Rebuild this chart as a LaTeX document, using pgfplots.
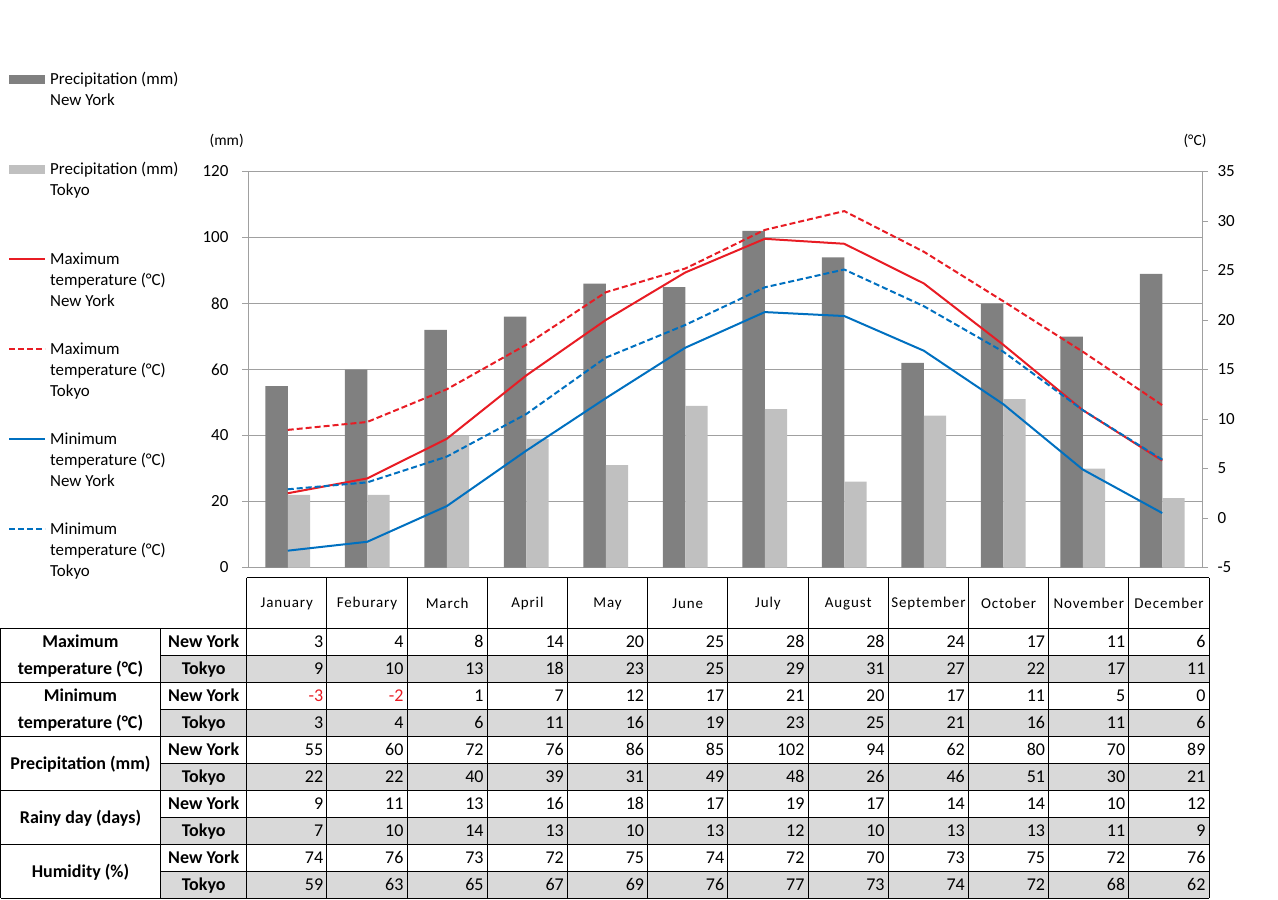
\documentclass[border=0pt]{standalone}
\usepackage{fontspec}
\setmainfont{Carlito}
\newfontfamily\monthfont[LetterSpace=6]{Carlito}
\usepackage{pgfplots}
\usepackage{pgfplotstable}
\pgfplotsset{compat=1.18}

\definecolor{nydark}{RGB}{128,128,128}
\definecolor{tklight}{RGB}{192,192,192}
\definecolor{tred}{RGB}{232,28,36}
\definecolor{tblue}{RGB}{0,112,192}
\definecolor{axisgray}{RGB}{160,160,160}
\definecolor{cellgray}{RGB}{217,217,217}

\newcommand\fs[1]{\fontsize{#1}{#1}\selectfont}

% month, precipitation (mm), temperatures (C)
\pgfplotstableread{
m  nyp tkp nymax tkmax nymin tkmin
1  55  22  2.5   8.9   -3.3  2.9
2  60  22  4.0   9.7   -2.4  3.6
3  72  40  8.0   13.0  1.2   6.2
4  76  39  14.4  17.5  6.8   10.5
5  86  31  20.0  22.8  12.1  16.2
6  85  49  24.8  25.2  17.2  19.5
7  102 48  28.2  29.1  20.8  23.3
8  94  26  27.7  31.0  20.4  25.1
9  62  46  23.7  26.9  16.9  21.4
10 80  51  17.5  21.9  11.5  16.8
11 70  30  10.9  16.8  4.9   10.9
12 89  21  5.8   11.4  0.5   5.9
}\climate

\tikzset{
  leg/.style={anchor=west, inner sep=0pt, text height=10.8pt, text depth=0pt, font=\fs{16.9}},
  hdr/.style={inner sep=0pt, text height=11.6pt, text depth=0pt, font=\bfseries\fs{18}},
  num/.style={anchor=east, inner sep=0pt, text height=11.6pt, text depth=0pt, font=\fs{18}},
}

\begin{document}
\begin{tikzpicture}
\useasboundingbox (0,0) rectangle (1278pt,-900pt);

% ---- legend
\fill[nydark] (9pt,-74.5pt) rectangle (45pt,-83.5pt);
\node[leg] at (50pt,-79pt) {Precipitation (mm)};
\node[leg] at (50pt,-100pt) {New York};
\fill[tklight] (9pt,-164.5pt) rectangle (45pt,-173.5pt);
\node[leg] at (50pt,-169pt) {Precipitation (mm)};
\node[leg] at (50pt,-190pt) {Tokyo};
\draw[tred, line width=2pt] (9pt,-259pt) -- (45pt,-259pt);
\node[leg] at (50pt,-259pt) {Maximum};
\node[leg] at (50pt,-280pt) {temperature (°C)};
\node[leg] at (50pt,-301pt) {New York};
\draw[tred, line width=2pt, dash pattern=on 6pt off 3pt] (9pt,-349pt) -- (45pt,-349pt);
\node[leg] at (50pt,-349pt) {Maximum};
\node[leg] at (50pt,-370pt) {temperature (°C)};
\node[leg] at (50pt,-391pt) {Tokyo};
\draw[tblue, line width=2pt] (9pt,-439pt) -- (45pt,-439pt);
\node[leg] at (50pt,-439pt) {Minimum};
\node[leg] at (50pt,-460pt) {temperature (°C)};
\node[leg] at (50pt,-481pt) {New York};
\draw[tblue, line width=2pt, dash pattern=on 6pt off 3pt] (9pt,-529pt) -- (45pt,-529pt);
\node[leg] at (50pt,-529pt) {Minimum};
\node[leg] at (50pt,-550pt) {temperature (°C)};
\node[leg] at (50pt,-571pt) {Tokyo};

% ---- unit labels
\node[font=\fs{15.5}] at (226.7pt,-141pt) {(mm)};
\node[font=\fs{15.5}] at (1195pt,-141pt) {(°C)};

% ---- precipitation bars (left axis)
\begin{axis}[
  at={(248pt,-567.5pt)}, anchor=south west,
  scale only axis, width=954pt, height=396pt,
  xmin=0.5, xmax=12.5, ymin=0, ymax=120,
  xtick=\empty, ytick={0,20,...,120}, ytick pos=left,
  tick align=outside, major tick length=6pt,
  ymajorgrids, grid style={axisgray, line width=1pt},
  axis line style={axisgray, line width=1pt},
  tick style={axisgray, line width=1pt},
  yticklabel style={font=\fs{17}, xshift=-10pt},
  /pgf/number format/assume math mode=true,
  bar width=22.3pt,
]
\addplot[ybar, bar shift=-11.15pt, fill=nydark, draw=none] table[x=m, y=nyp] {\climate};
\addplot[ybar, bar shift=11.15pt, fill=tklight, draw=none] table[x=m, y=tkp] {\climate};
\end{axis}

% ---- temperature lines (right axis)
\begin{axis}[
  at={(248pt,-567.5pt)}, anchor=south west,
  scale only axis, width=954pt, height=396pt,
  xmin=0.5, xmax=12.5, ymin=-5, ymax=35,
  axis x line=none, axis y line*=right,
  axis line style={-, axisgray, line width=1pt},
  ytick={-5,0,...,35},
  tick align=outside, major tick length=6pt,
  tick style={axisgray, line width=1pt},
  yticklabel style={font=\fs{17}, xshift=6pt},
  /pgf/number format/assume math mode=true,
  every axis plot/.append style={line width=2pt, mark=none, line join=round},
]
\addplot[tred] table[x=m, y=nymax] {\climate};
\addplot[tred, dash pattern=on 6pt off 3pt] table[x=m, y=tkmax] {\climate};
\addplot[tblue] table[x=m, y=nymin] {\climate};
\addplot[tblue, dash pattern=on 6pt off 3pt] table[x=m, y=tkmin] {\climate};
\end{axis}

% ---- data table
\foreach \r in {2,4,6,8,10}
  \fill[cellgray] (160.7pt,{-(628.3+27*(\r-1))*1pt}) rectangle (1209pt,{-(628.3+27*\r)*1pt});

\foreach \mname [count=\i] in {January,Feburary,March,April,May,June,July,August,September,October,November,December}
  \node[inner sep=0pt, font=\monthfont\fs{15}] at ({246.7pt+80.2pt*(\i-0.5)},-603.5pt) {\mname};

\foreach \vals [count=\r] in {
  {3,4,8,14,20,25,28,28,24,17,11,6},
  {9,10,13,18,23,25,29,31,27,22,17,11},
  {-3,-2,1,7,12,17,21,20,17,11,5,0},
  {3,4,6,11,16,19,23,25,21,16,11,6},
  {55,60,72,76,86,85,102,94,62,80,70,89},
  {22,22,40,39,31,49,48,26,46,51,30,21},
  {9,11,13,16,18,17,19,17,14,14,10,12},
  {7,10,14,13,10,13,12,10,13,13,11,9},
  {74,76,73,72,75,74,72,70,73,75,72,76},
  {59,63,65,67,69,76,77,73,74,72,68,62}} {
  \foreach \v [count=\c] in \vals {
    \node[num] at ({246.7pt+80.2pt*\c-3.5pt},{-(628.3+27*(\r-0.5))*1pt})
      {\ifnum\v<0 \textcolor{tred}{\v}\else\v\fi};
  }
}

\foreach \r in {1,3,5,7,9} {
  \node[hdr] at (203.7pt,{-(628.3+27*(\r-0.5))*1pt}) {New York};
  \node[hdr] at (203.7pt,{-(628.3+27*(\r+0.5))*1pt}) {Tokyo};
}
\node[hdr] at (80.5pt,-641.8pt) {Maximum};
\node[hdr] at (80.5pt,-668.8pt) {temperature (°C)};
\node[hdr] at (80.5pt,-695.8pt) {Minimum};
\node[hdr] at (80.5pt,-722.8pt) {temperature (°C)};
\node[hdr] at (80.5pt,-763.3pt) {Precipitation (mm)};
\node[hdr] at (80.5pt,-817.3pt) {Rainy day (days)};
\node[hdr] at (80.5pt,-871.3pt) {Humidity (\%)};

% grid of the table
\begin{scope}[black, line width=1pt]
  \draw (246.7pt,-577.5pt) -- (1209pt,-577.5pt);
  \foreach \k in {0,...,12}
    \draw ({246.7pt+80.2pt*\k},-577.5pt) -- ({246.7pt+80.2pt*\k},-898.3pt);
  \draw (0.5pt,-628.3pt) -- (0.5pt,-898.3pt);
  \draw (160.7pt,-628.3pt) -- (160.7pt,-898.3pt);
  \foreach \g in {0,...,5}
    \draw (0.5pt,{-(628.3+54*\g)*1pt}) -- (1209pt,{-(628.3+54*\g)*1pt});
  \foreach \g in {0,...,4}
    \draw (160.7pt,{-(655.3+54*\g)*1pt}) -- (1209pt,{-(655.3+54*\g)*1pt});
\end{scope}
\end{tikzpicture}
\end{document}
